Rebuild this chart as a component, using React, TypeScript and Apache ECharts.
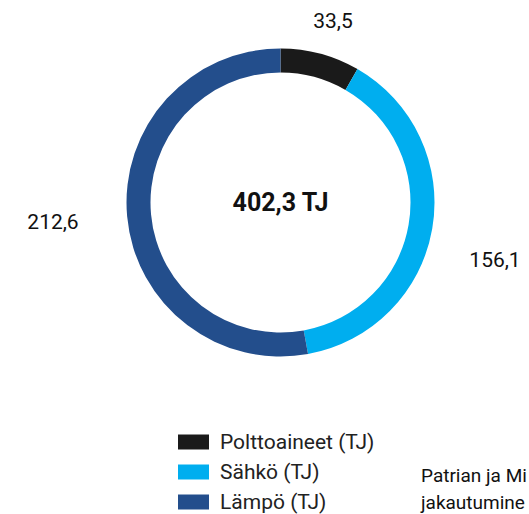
import React, { useEffect, useRef } from "react";
import * as echarts from "echarts";

const categories = ["Polttoaineet (TJ)", "Sähkö (TJ)", "Lämpö (TJ)"];
const values = [33.5, 156.1, 212.6];
const colors = ["#1a1a1a", "#00aeef", "#234e8c"];
const totalLabel = "402,3 TJ";
const captionLines = ["Patrian ja Mi", "jakautumine"];
const labelPositions = [
  { x: 333, y: 21 },
  { x: 495, y: 260 },
  { x: 53, y: 222 },
];

const fmt = (v: number) => v.toFixed(1).replace(".", ",");
const FONT = "Roboto";

export default function App() {
  const ref = useRef<HTMLDivElement>(null);
  useEffect(() => {
    if (!ref.current) return;
    const chart = echarts.init(ref.current, undefined, { renderer: "svg" });
    chart.setOption({
      animation: false,
      backgroundColor: "#ffffff",
      color: colors,
      textStyle: { fontFamily: FONT },
      legend: {
        orient: "vertical",
        left: 173,
        top: 426,
        height: 120,
        itemWidth: 31,
        itemHeight: 15,
        itemGap: 8,
        icon: "rect",
        selectedMode: false,
        textStyle: {
          fontFamily: FONT,
          fontSize: 21,
          lineHeight: 22,
          color: "#222",
          padding: [0, 0, 0, 6],
        },
        data: categories,
      },
      graphic: [
        {
          type: "text",
          left: 421,
          top: 462,
          style: {
            text: captionLines.join("\n"),
            font: `19px ${FONT}`,
            fill: "#111",
            lineHeight: 27,
          },
        },
      ],
      series: [
        {
          type: "pie",
          center: [280.5, 202.5],
          radius: [130, 154],
          startAngle: 90,
          clockwise: true,
          silent: true,
          itemStyle: { borderWidth: 0 },
          label: {
            show: true,
            position: "outside",
            formatter: (p: any) => fmt(p.value),
            fontFamily: FONT,
            fontSize: 21,
            color: "#111",
            overflow: "none",
          },
          labelLine: { show: false },
          labelLayout: (params: any) => {
            const p = labelPositions[params.dataIndex];
            return { x: p.x, y: p.y, align: "center", verticalAlign: "middle" };
          },
          data: categories.map((name, i) => ({ name, value: values[i] })),
        },
        {
          type: "pie",
          center: [280.5, 202.5],
          radius: [0, 0],
          silent: true,
          label: {
            show: true,
            position: "center",
            formatter: totalLabel,
            fontFamily: FONT,
            fontSize: 25,
            fontWeight: "bold",
            color: "#111",
          },
          labelLine: { show: false },
          data: [{ name: "total", value: 1, itemStyle: { color: "transparent" } }],
        },
      ],
    });
    return () => chart.dispose();
  }, []);
  return (
    <div
      ref={ref}
      style={{ position: "fixed", left: 0, top: 0, width: 529, height: 514 }}
    />
  );
}
